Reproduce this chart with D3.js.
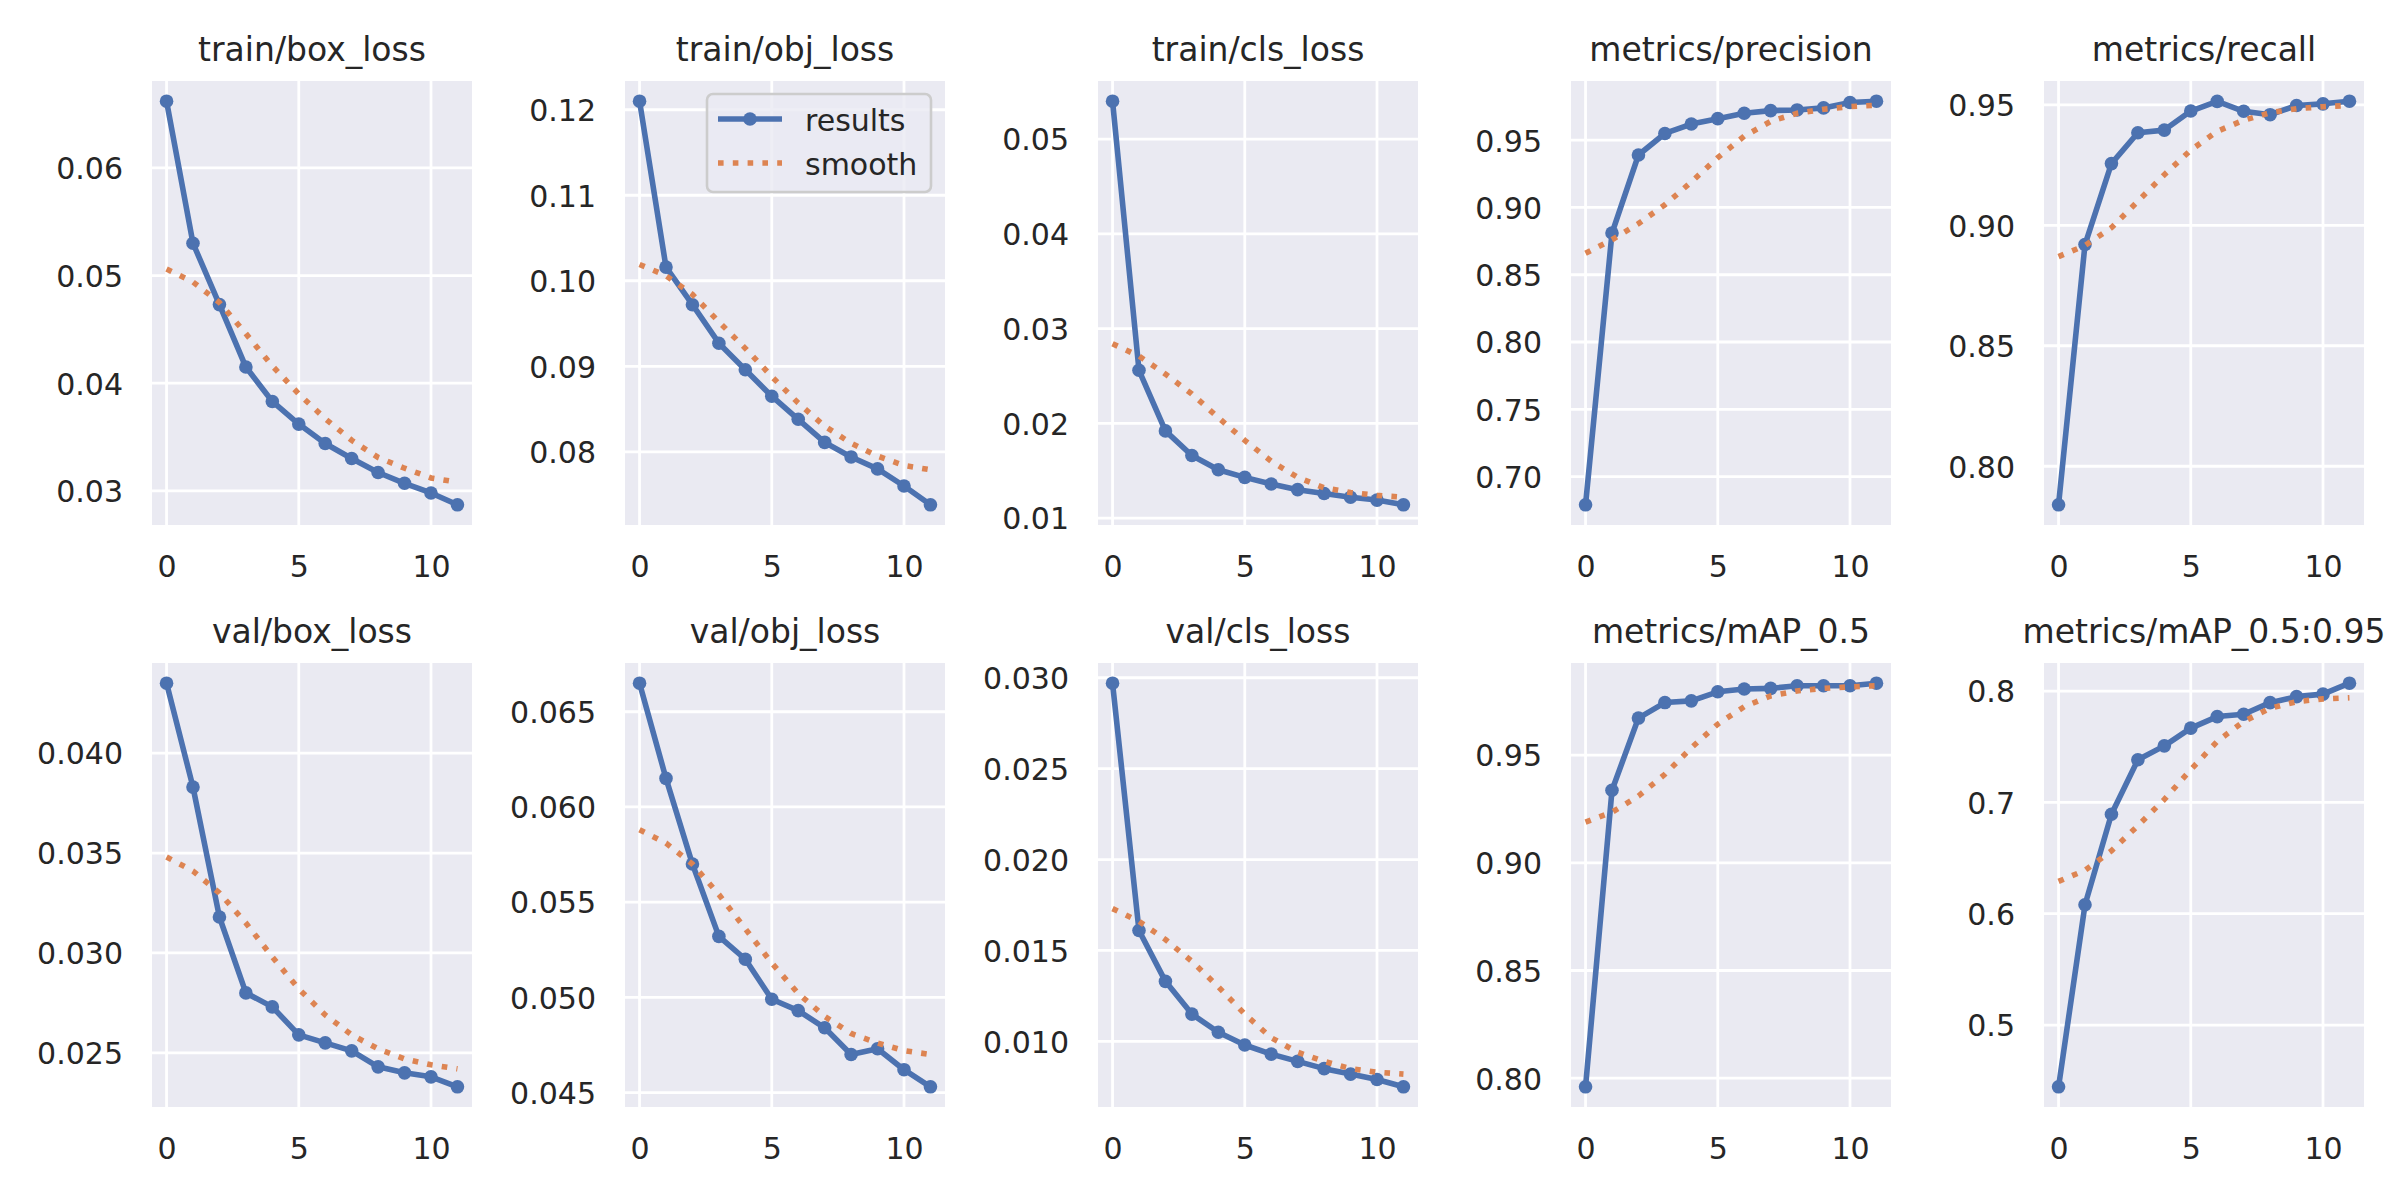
<!DOCTYPE html>
<html>
<head>
<meta charset="utf-8">
<script src="https://cdn.jsdelivr.net/npm/d3@7"></script>
<style>
  body { margin: 0; background: #ffffff; }
  text { font-family: "DejaVu Sans", sans-serif; fill: #262626; }
</style>
</head>
<body>
<div id="chart"></div>
<script>
var svgWidth = 2400;
var svgHeight = 1200;

// epochs on the x axis
var epochs = [0, 1, 2, 3, 4, 5, 6, 7, 8, 9, 10, 11];

var titles = ["train/box_loss", "train/obj_loss", "train/cls_loss", "metrics/precision", "metrics/recall",
  "val/box_loss", "val/obj_loss", "val/cls_loss", "metrics/mAP_0.5", "metrics/mAP_0.5:0.95"];

// results
var trainBox = [0.0662, 0.0530, 0.0473, 0.0415, 0.0383, 0.0362, 0.0344, 0.0330, 0.0317, 0.0307, 0.0298, 0.0287];
var trainObj = [0.1210, 0.1016, 0.0972, 0.0927, 0.0896, 0.0865, 0.0838, 0.0811, 0.0794, 0.0780, 0.0760, 0.0738];
var trainCls = [0.0540, 0.0256, 0.0192, 0.0166, 0.0151, 0.0143, 0.0136, 0.0130, 0.0126, 0.0122, 0.0119, 0.0114];
var precision = [0.679, 0.881, 0.939, 0.955, 0.962, 0.966, 0.970, 0.972, 0.9725, 0.974, 0.978, 0.979];
var recall = [0.784, 0.892, 0.9256, 0.9384, 0.9395, 0.9474, 0.9514, 0.9473, 0.9459, 0.9497, 0.9504, 0.9515];
var valBox = [0.0435, 0.0383, 0.0318, 0.0280, 0.0273, 0.0259, 0.0255, 0.0251, 0.0243, 0.0240, 0.0238, 0.0233];
var valObj = [0.0665, 0.0615, 0.0570, 0.0532, 0.0520, 0.0499, 0.0493, 0.0484, 0.0470, 0.0473, 0.0462, 0.0453];
var valCls = [0.0297, 0.0161, 0.0133, 0.0115, 0.0105, 0.0098, 0.0093, 0.0089, 0.0085, 0.0082, 0.0079, 0.0075];
var map50 = [0.796, 0.9337, 0.9672, 0.9744, 0.9752, 0.9794, 0.9807, 0.981, 0.9822, 0.9822, 0.9822, 0.9834];
var map5095 = [0.4445, 0.608, 0.6893, 0.7383, 0.7508, 0.7667, 0.7771, 0.7792, 0.7896, 0.795, 0.7973, 0.8071];

// smooth curves
var trainBoxSmooth = [0.0506, 0.0494, 0.0475, 0.0446, 0.0416, 0.0390, 0.0367, 0.0347, 0.0331, 0.0321, 0.0312, 0.0308];
var trainObjSmooth = [0.1019, 0.1006, 0.0984, 0.0952, 0.0921, 0.0888, 0.0857, 0.0830, 0.0810, 0.0795, 0.0784, 0.0779];
var trainClsSmooth = [0.0284, 0.0271, 0.0252, 0.0231, 0.0206, 0.0182, 0.0160, 0.0143, 0.0132, 0.0127, 0.0124, 0.0122];
var precisionSmooth = [0.866, 0.876, 0.888, 0.902, 0.919, 0.937, 0.953, 0.964, 0.970, 0.973, 0.975, 0.976];
var recallSmooth = [0.887, 0.8916, 0.899, 0.910, 0.921, 0.9312, 0.939, 0.9436, 0.9467, 0.9484, 0.9492, 0.9497];
var valBoxSmooth = [0.0348, 0.0341, 0.0330, 0.0315, 0.0298, 0.0282, 0.0269, 0.0259, 0.0252, 0.0247, 0.0244, 0.0242];
var valObjSmooth = [0.0588, 0.0581, 0.0570, 0.0554, 0.0536, 0.0518, 0.0502, 0.0490, 0.0481, 0.0476, 0.0472, 0.0470];
var valClsSmooth = [0.0173, 0.0166, 0.0156, 0.0144, 0.0130, 0.0115, 0.0102, 0.0094, 0.0089, 0.0085, 0.0083, 0.0082];
var map50Smooth = [0.9189, 0.9235, 0.931, 0.9411, 0.9534, 0.9644, 0.9725, 0.9775, 0.9798, 0.981, 0.9817, 0.9822];
var map5095Smooth = [0.629, 0.639, 0.6565, 0.679, 0.7027, 0.7294, 0.7548, 0.7727, 0.7846, 0.7905, 0.793, 0.794];

// tick labels
var xTicks = [0, 5, 10];
var yTicks = [
  ["0.03", "0.04", "0.05", "0.06"],
  ["0.08", "0.09", "0.10", "0.11", "0.12"],
  ["0.01", "0.02", "0.03", "0.04", "0.05"],
  ["0.70", "0.75", "0.80", "0.85", "0.90", "0.95"],
  ["0.80", "0.85", "0.90", "0.95"],
  ["0.025", "0.030", "0.035", "0.040"],
  ["0.045", "0.050", "0.055", "0.060", "0.065"],
  ["0.010", "0.015", "0.020", "0.025", "0.030"],
  ["0.80", "0.85", "0.90", "0.95"],
  ["0.5", "0.6", "0.7", "0.8"]
];
var legendLabels = ["results", "smooth"];

var resultSeries = [trainBox, trainObj, trainCls, precision, recall, valBox, valObj, valCls, map50, map5095];
var smoothSeries = [trainBoxSmooth, trainObjSmooth, trainClsSmooth, precisionSmooth, recallSmooth,
  valBoxSmooth, valObjSmooth, valClsSmooth, map50Smooth, map5095Smooth];

// layout
var panelLeft = [152, 625, 1098, 1571, 2044];
var panelTop = [81, 663];
var width = 320;
var height = 444;
var blue = "#4C72B0";
var orange = "#DD8452";

var svg = d3.select("#chart")
  .append("svg")
  .attr("width", svgWidth)
  .attr("height", svgHeight);

var xScale = d3.scaleLinear()
  .domain([-0.55, 11.55])
  .range([0, width]);

titles.forEach(function(title, i) {
  var col = i % 5;
  var row = Math.floor(i / 5);
  var results = resultSeries[i];
  var smooth = smoothSeries[i];

  var g = svg.append("g")
    .attr("transform", `translate(${panelLeft[col]}, ${panelTop[row]})`);

  // y domain with 5% padding like matplotlib
  var all = results.concat(smooth);
  var lo = d3.min(all), hi = d3.max(all);
  var pad = (hi - lo) * 0.05;
  var yScale = d3.scaleLinear()
    .domain([lo - pad, hi + pad])
    .range([height, 0]);

  g.append("rect")
    .attr("width", width)
    .attr("height", height)
    .attr("fill", "#EAEAF2");

  // grid
  var ticksY = yTicks[i].map(Number);
  g.selectAll(".hgrid")
    .data(ticksY)
    .enter()
    .append("line")
    .attr("x1", 0)
    .attr("x2", width)
    .attr("y1", d => yScale(d))
    .attr("y2", d => yScale(d))
    .attr("stroke", "#ffffff")
    .attr("stroke-width", 2.8);

  g.selectAll(".vgrid")
    .data(xTicks)
    .enter()
    .append("line")
    .attr("x1", d => xScale(d))
    .attr("x2", d => xScale(d))
    .attr("y1", 0)
    .attr("y2", height)
    .attr("stroke", "#ffffff")
    .attr("stroke-width", 2.8);

  // axes (labels only, no tick marks)
  var bottomAxis = d3.axisBottom(xScale)
    .tickValues(xTicks)
    .tickSize(0)
    .tickPadding(0);
  var xAxis = g.append("g")
    .attr("transform", `translate(0, ${height})`)
    .call(bottomAxis);
  xAxis.select(".domain").remove();
  xAxis.selectAll("text")
    .attr("y", 52)
    .attr("dy", null)
    .attr("font-size", "30px")
    .attr("fill", "#262626");

  var leftAxis = d3.axisLeft(yScale)
    .tickValues(ticksY)
    .tickFormat((d, k) => yTicks[i][k])
    .tickSize(0)
    .tickPadding(29);
  var yAxis = g.append("g").call(leftAxis);
  yAxis.select(".domain").remove();
  yAxis.selectAll("text")
    .attr("dy", "0.36em")
    .attr("font-size", "30px")
    .attr("fill", "#262626");
  svg.selectAll(".tick text").style("font-family", "DejaVu Sans, sans-serif");

  // title
  g.append("text")
    .attr("x", width / 2)
    .attr("y", -20)
    .attr("text-anchor", "middle")
    .attr("font-size", "33px")
    .text(title);

  var line = d3.line()
    .x((d, k) => xScale(epochs[k]))
    .y(d => yScale(d));

  g.append("path")
    .datum(results)
    .attr("d", line)
    .attr("fill", "none")
    .attr("stroke", blue)
    .attr("stroke-width", 5.6)
    .attr("stroke-linejoin", "round");

  g.selectAll(".dot")
    .data(results)
    .enter()
    .append("circle")
    .attr("cx", (d, k) => xScale(epochs[k]))
    .attr("cy", d => yScale(d))
    .attr("r", 6.8)
    .attr("fill", blue);

  g.append("path")
    .datum(smooth)
    .attr("d", line)
    .attr("fill", "none")
    .attr("stroke", orange)
    .attr("stroke-width", 5.6)
    .attr("stroke-dasharray", "5.6 9.2");

  // legend only on the second panel
  if (i === 1) {
    var lg = g.append("g").attr("transform", "translate(82, 13)");
    lg.append("rect")
      .attr("width", 224)
      .attr("height", 98)
      .attr("rx", 6)
      .attr("fill", "#EAEAF2")
      .attr("fill-opacity", 0.8)
      .attr("stroke", "#cccccc")
      .attr("stroke-width", 2.6);
    lg.append("line")
      .attr("x1", 11).attr("x2", 75)
      .attr("y1", 25).attr("y2", 25)
      .attr("stroke", blue)
      .attr("stroke-width", 5.6);
    lg.append("circle")
      .attr("cx", 43).attr("cy", 25)
      .attr("r", 6.8)
      .attr("fill", blue);
    lg.append("line")
      .attr("x1", 11).attr("x2", 75)
      .attr("y1", 69).attr("y2", 69)
      .attr("stroke", orange)
      .attr("stroke-width", 5.6)
      .attr("stroke-dasharray", "5.6 9.2");
    lg.selectAll(".ltext")
      .data(legendLabels)
      .enter()
      .append("text")
      .attr("x", 98)
      .attr("y", (d, k) => 36.5 + k * 44)
      .attr("font-size", "30px")
      .text(d => d);
  }
});
</script>
</body>
</html>
